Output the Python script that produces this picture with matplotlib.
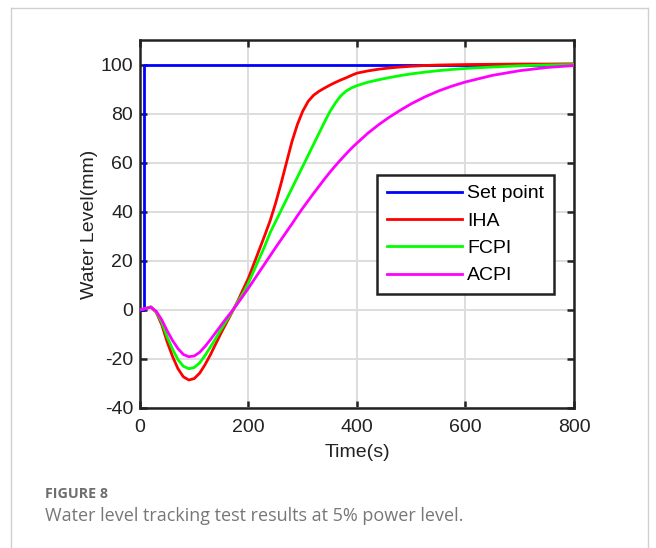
import matplotlib.pyplot as plt
from matplotlib.lines import Line2D

# time axis (s)
t = [0, 10, 20, 30, 40, 50, 60, 70, 80, 90, 100, 110, 120, 130, 140, 150, 160, 170, 180, 190,
     200, 210, 220, 230, 240, 250, 260, 270, 280, 290, 300, 310, 320, 330, 340, 350, 360, 370,
     380, 390, 400, 420, 440, 460, 480, 500, 525, 550, 575, 600, 650, 700, 750, 800]

# set point step
sp_t = [0, 8, 8, 800]
sp_v = [0, 0, 100, 100]

iha = [0, 0.5, 1.2, -1, -6, -13, -19, -24, -27.3, -28.6, -28, -25.8, -22.3, -18.2, -13.7, -9.2, -5, -0.8, 3.5, 8.3,
       13, 18.8, 24.6, 30.4, 36.4, 43.5, 51.5, 60, 68.5, 75.5, 81, 85, 87.5, 89.1, 90.4, 91.6, 92.7, 93.7,
       94.6, 95.6, 96.5, 97.4, 98.1, 98.6, 99, 99.3, 99.6, 99.8, 99.9, 100, 100.1, 100.2, 100.2, 100.3]

fcpi = [0, 0.5, 1.2, -0.8, -5, -11, -16, -20.3, -23, -24, -23.5, -21.6, -18.6, -15.1, -11.5, -7.8, -4.2, -0.6, 3.2, 6.8,
        11, 16, 21, 26, 31.5, 36, 40.5, 45, 49.5, 54, 58.5, 63, 67.5, 72, 76.5, 80.8, 84.3, 87.2,
        89.2, 90.5, 91.4, 92.8, 93.8, 94.7, 95.5, 96.2, 96.9, 97.5, 98, 98.4, 99, 99.5, 99.8, 100]

acpi = [0, 0.5, 1.1, -0.6, -4, -8.5, -12.5, -15.8, -18.2, -19.1, -18.8, -17.3, -14.9, -12.1, -9.1, -6.1, -3.2, -0.4, 2.6, 5.7,
        8.9, 12.2, 15.5, 18.8, 22.1, 25.4, 28.6, 31.8, 35, 38.3, 41.5, 44.5, 47.5, 50.4, 53.3, 56.1, 58.7, 61.2,
        63.6, 65.9, 68, 72, 75.5, 78.6, 81.4, 84, 86.8, 89.2, 91.2, 92.9, 95.6, 97.5, 98.8, 99.6]

plt.rcParams['font.family'] = ['Liberation Sans', 'DejaVu Sans']
plt.rcParams['axes.unicode_minus'] = False

fig = plt.figure(figsize=(6.56, 5.48), dpi=100)
ax = fig.add_axes([0.2134, 0.2555, 0.6616, 0.6715])

ax.plot(sp_t, sp_v, color='#0000ff', lw=2, label='Set point', zorder=3)
ax.plot(t, iha, color='#ff0000', lw=2, label='IHA', zorder=3)
ax.plot(t, fcpi, color='#00ff00', lw=2, label='FCPI', zorder=3)
ax.plot(t, acpi, color='#ff00ff', lw=2, label='ACPI', zorder=3)

ax.set_xlim(0, 800)
ax.set_ylim(-40, 110)
ax.set_xticks([0, 200, 400, 600, 800])
ax.set_yticks([-40, -20, 0, 20, 40, 60, 80, 100])
ax.grid(True, color='#dddddd', lw=1.4)
ax.set_axisbelow(True)
ax.tick_params(direction='in', length=5, width=1.8, top=True, right=True,
               labelsize=14, colors='#222222', labelcolor='#222222', pad=5)
ax.tick_params(axis='x', pad=8)
for s in ax.spines.values():
    s.set_linewidth(1.8)
    s.set_color('#222222')

ax.set_xlabel('Time(s)', fontsize=14, color='#222222', labelpad=6)
ax.set_ylabel('Water Level(mm)', fontsize=14, color='#222222', labelpad=2)

leg = ax.legend(loc='upper left', bbox_to_anchor=(0.546, 0.633), borderaxespad=0,
                fontsize=14, handlelength=3.85, handletextpad=0.3, labelspacing=0.5,
                borderpad=0.5, fancybox=False, framealpha=1)
leg.get_frame().set_edgecolor('#222222')
leg.get_frame().set_linewidth(1.8)

# page frame around the figure
W, H = 656, 548
fig.add_artist(Line2D([11 / W, 11 / W], [0, 1 - 8 / H], color='#d0d0d0', lw=1))
fig.add_artist(Line2D([11 / W, 648 / W], [1 - 8 / H, 1 - 8 / H], color='#d0d0d0', lw=1))
fig.add_artist(Line2D([648 / W, 648 / W], [0, 1 - 8 / H], color='#d0d0d0', lw=1))

fig.text(45 / W, 1 - 494 / H, 'FIGURE 8', fontsize=10.3, color='#6e6e6e', fontweight='bold',
         family=['Open Sans', 'DejaVu Sans'], va='center')
fig.text(45 / W, 1 - 516 / H, 'Water level tracking test results at 5% power level.', fontsize=13,
         color='#777777', family=['Open Sans', 'DejaVu Sans'], va='center')

fig.savefig('out.png', dpi=100)
